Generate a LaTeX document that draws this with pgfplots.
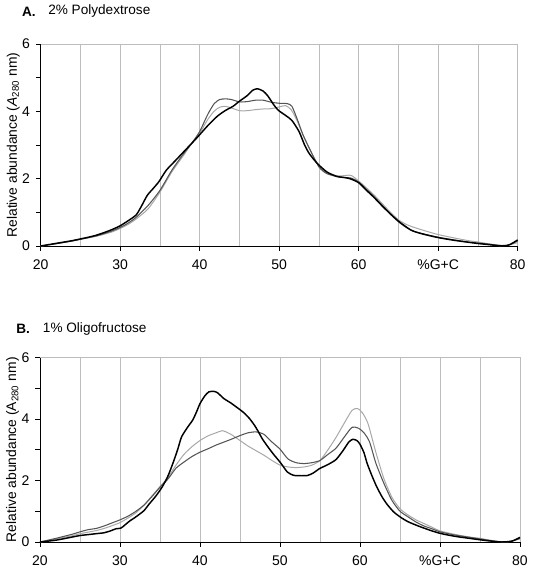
\documentclass[border=0pt]{standalone}
\usepackage{fontspec}
\setmainfont{Liberation Sans}
\usepackage{pgfplots}
\pgfplotsset{compat=1.18}
\definecolor{gridc}{HTML}{BDBDBD}
\definecolor{dgray}{HTML}{555555}
\definecolor{lgray}{HTML}{A8A8A8}
\pgfplotsset{
  panel/.style={
    scale only axis,
    xmin=20, xmax=80, ymin=0, ymax=6,
    axis x line*=bottom, axis y line*=left,
    axis line style={black, line width=0.7pt},
    xtick={20,30,...,80},
    xticklabels={20,30,40,50,60,{\%G+C},80},
    ytick={0,2,4,6},
    minor ytick={1,3,5},
    tick align=outside,
    major tick length=3.5pt, minor tick length=3.5pt,
    tick style={black, line width=0.6pt},
    extra x ticks={25,30,...,75},
    extra x tick labels={},
    extra x tick style={grid=major, major tick length=0pt},
    grid style={gridc, line width=0.6pt},
    /pgf/number format/assume math mode=true,
    tick label style={font=\fontsize{10.5}{12}\selectfont},
    xticklabel style={yshift=-3pt},
    yticklabel style={xshift=-1pt},
    label style={font=\fontsize{10.4}{12}\selectfont},
    ylabel shift=-5pt,
    clip=false,
  },
  blk/.style={black, line width=1.1pt, smooth, tension=0.4},
  dg/.style={dgray, line width=0.8pt, smooth, tension=0.4},
  lg/.style={lgray, line width=0.75pt, smooth, tension=0.4},
}
\begin{document}
\begin{tikzpicture}
\useasboundingbox (0,0) rectangle (399.75pt,430.5pt);
\node[anchor=west, font=\fontsize{10.2}{12}\selectfont\bfseries] at (13pt,422pt) {A.};
\node[anchor=west, font=\fontsize{10.2}{12}\selectfont] at (32.7pt,422pt) {2\% Polydextrose};
\begin{axis}[panel, at={(30.5pt,246pt)}, anchor=south west, width=357.75pt, height=151.5pt,
  ylabel={Relative abundance (\textit{A}\textsubscript{280} nm)}]
\draw[gridc, line width=0.6pt] (rel axis cs:0,1) -- (rel axis cs:1,1) -- (rel axis cs:1,0);
% light gray
\addplot[lg] coordinates {
(20,0) (22,0.07) (24,0.15) (25,0.2) (26,0.24) (27,0.29) (28,0.35) (29,0.42) (30,0.52) (31,0.64) (32,0.8) (33.5,1.1) (35,1.6) (36.5,2.2) (38,2.7) (39,3.05) (40,3.35) (41,3.75) (41.8,4.0) (42.5,4.12) (43.2,4.15) (44,4.1) (45,4.02) (46,4.02) (47,4.05) (48,4.07) (49,4.08) (50,4.13) (50.8,4.17) (51.5,4.05) (52.2,3.75) (53,3.3) (54,2.8) (55,2.38) (56,2.17) (57.5,2.08) (59,2.1) (60,1.93) (61,1.72) (62,1.5) (63,1.25) (64,1.0) (65,0.78) (66,0.64) (67,0.55) (68.5,0.44) (70,0.34) (72,0.24) (74,0.15) (75,0.12) (76.5,0.06) (78,0.02) (79,0.04) (80,0.1)
};
% dark gray
\addplot[dg] coordinates {
(20,0) (22,0.07) (24,0.15) (25,0.2) (26,0.25) (27,0.3) (28,0.37) (29,0.45) (30,0.55) (31,0.68) (32,0.85) (33.5,1.2) (35,1.65) (36.5,2.25) (38,2.75) (39,3.05) (40,3.4) (41,3.9) (41.8,4.22) (42.5,4.35) (43.3,4.37) (44,4.35) (45,4.28) (46,4.29) (47,4.33) (48,4.33) (49,4.27) (50,4.24) (51,4.23) (51.6,4.15) (52.3,3.75) (53,3.3) (53.8,2.9) (55,2.35) (56,2.15) (57.5,2.05) (59,2.02) (60,1.9) (61,1.68) (62,1.45) (63,1.2) (64,0.95) (65,0.72) (66,0.55) (67,0.43) (68.5,0.34) (70,0.26) (72,0.18) (74,0.11) (75,0.09) (76.5,0.05) (78,0.0) (79,0.04) (80,0.15)
};
% black
\addplot[blk] coordinates {
(20,0) (22,0.08) (24,0.16) (25,0.21) (26,0.26) (27,0.32) (28,0.4) (29,0.49) (30,0.6) (31,0.75) (32,0.92) (32.6,1.15) (33.4,1.5) (34.2,1.72) (34.9,1.92) (35.8,2.25) (37,2.55) (38,2.8) (39.6,3.2) (41,3.57) (42.2,3.85) (43.2,4.02) (44.2,4.15) (45,4.3) (46,4.47) (46.7,4.63) (47.3,4.67) (48,4.6) (48.6,4.45) (49.3,4.2) (49.9,4.03) (50.8,3.88) (51.6,3.73) (52.5,3.4) (53.2,3.0) (53.8,2.74) (54.8,2.45) (56,2.2) (57.2,2.07) (58,2.04) (58.9,2.0) (60,1.88) (61,1.65) (61.9,1.45) (63,1.18) (64,0.95) (65.1,0.72) (66.6,0.47) (68,0.36) (70,0.25) (72,0.17) (74.8,0.08) (76,0.05) (78.2,0.0) (79,0.04) (80,0.18)
};
\end{axis}
\node[anchor=west, font=\fontsize{10.2}{12}\selectfont\bfseries] at (8.7pt,184pt) {B.};
\node[anchor=west, font=\fontsize{10.2}{12}\selectfont] at (28.7pt,184pt) {1\% Oligofructose};
\begin{axis}[panel, at={(30pt,24pt)}, anchor=south west, width=360pt, height=138.4pt,
  ylabel={Relative abundance (A\textsubscript{280} nm)}]
\draw[gridc, line width=0.6pt] (rel axis cs:0,1) -- (rel axis cs:1,1) -- (rel axis cs:1,0);
% light gray
\addplot[lg] coordinates {
(20,0) (22,0.1) (24,0.2) (25,0.27) (26,0.32) (27,0.37) (28,0.44) (29,0.53) (30,0.63) (31,0.78) (32,0.95) (33,1.2) (34,1.5) (35,1.8) (36,2.1) (37,2.5) (38,2.85) (39,3.1) (40,3.3) (41,3.45) (42,3.55) (42.8,3.62) (43.5,3.55) (44,3.48) (45,3.3) (46,3.12) (47,2.97) (48,2.82) (49,2.65) (50,2.5) (51,2.44) (52,2.42) (53,2.44) (54,2.5) (55,2.65) (56,3.0) (57,3.4) (58,3.85) (59,4.28) (59.7,4.34) (60.3,4.2) (61,3.85) (62,2.9) (63,2.05) (64,1.45) (65,1.08) (66,0.88) (67,0.72) (68,0.6) (69,0.48) (70,0.36) (72,0.24) (74,0.15) (75,0.12) (76,0.07) (77,0.03) (78,0.0) (79,0.03) (80,0.1)
};
% dark gray
\addplot[dg] coordinates {
(20,0) (22,0.12) (24,0.25) (25,0.33) (26,0.4) (27,0.44) (28,0.52) (29,0.62) (30,0.72) (31,0.84) (32,1.0) (33,1.2) (34,1.48) (35,1.78) (36,2.05) (37,2.4) (38,2.6) (39,2.78) (40,2.92) (41,3.03) (42,3.15) (43,3.25) (44,3.35) (45,3.46) (46,3.55) (47,3.58) (48,3.5) (49,3.25) (50,3.02) (51,2.7) (52,2.58) (53,2.55) (54,2.58) (55,2.65) (56,2.85) (57,3.05) (58,3.4) (59,3.73) (59.8,3.7) (60.5,3.55) (61.2,3.25) (62,2.55) (63,1.9) (64,1.35) (65,1.0) (66,0.82) (67,0.65) (68,0.52) (69,0.43) (70,0.33) (72,0.22) (74,0.14) (75,0.1) (76,0.06) (77,0.02) (78,0.0) (79,0.03) (80,0.12)
};
% black
\addplot[blk] coordinates {
(20,0) (22,0.06) (24,0.16) (25,0.21) (26,0.24) (27,0.27) (28,0.3) (28.8,0.36) (29.5,0.43) (30.1,0.45) (30.6,0.55) (31.2,0.68) (32,0.82) (33,1.02) (33.6,1.22) (34.5,1.5) (35.3,1.8) (36,2.15) (36.6,2.55) (37.2,3.0) (37.7,3.42) (38.5,3.75) (39.1,3.97) (39.6,4.25) (40,4.5) (40.6,4.75) (41.1,4.88) (41.7,4.9) (42.2,4.85) (43,4.66) (43.8,4.53) (44.7,4.36) (45.5,4.2) (46.2,4.01) (46.8,3.8) (47.2,3.63) (47.8,3.35) (48.5,3.09) (49.2,2.85) (50,2.6) (50.5,2.42) (50.9,2.28) (51.4,2.2) (51.9,2.16) (53.4,2.16) (54.2,2.25) (54.9,2.38) (56,2.52) (57,2.68) (57.9,2.98) (58.6,3.25) (59.1,3.34) (59.6,3.3) (60,3.18) (60.5,2.9) (60.9,2.55) (61.5,2.15) (62.1,1.79) (62.8,1.45) (63.4,1.22) (64.2,0.98) (65.1,0.8) (66,0.66) (67,0.55) (67.7,0.48) (69,0.36) (70.2,0.27) (72,0.18) (74.5,0.09) (76,0.04) (77.7,0.0) (79,0.03) (80,0.15)
};
\end{axis}
\end{tikzpicture}
\end{document}
